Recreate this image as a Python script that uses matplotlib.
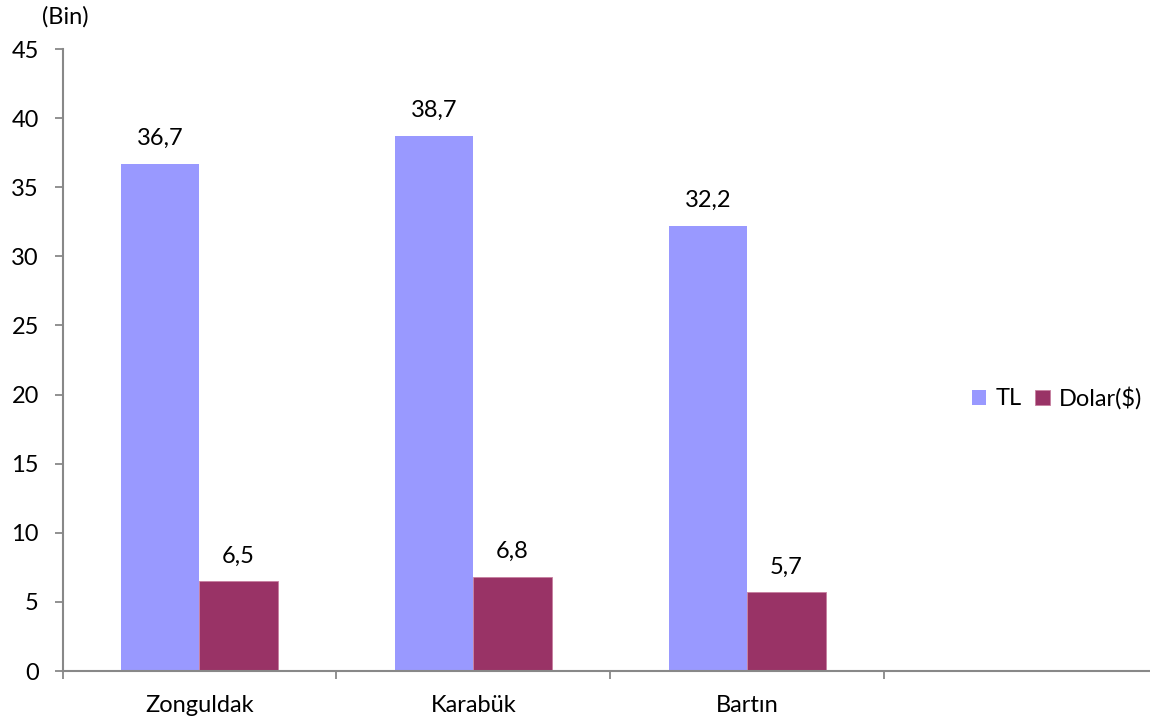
import matplotlib
matplotlib.use("Agg")
import matplotlib.pyplot as plt
import numpy as np

categories = ["Zonguldak", "Karabük", "Bartın", ""]
tl_values = [36.7, 38.7, 32.2]
usd_values = [6.5, 6.8, 5.7]
series_names = ["TL", "Dolar($)"]
yticks = [0, 5, 10, 15, 20, 25, 30, 35, 40, 45]

plt.rcParams['font.family'] = ['Lato', 'DejaVu Sans']
FS = 17

W, H = 1150, 722
fig = plt.figure(figsize=(W / 100, H / 100), dpi=100)
left, right, bottom, top = 62.5, 62.5 + 1096, 671, 49
ax = fig.add_axes([left / W, (H - bottom) / H, (right - left) / W, (bottom - top) / H])

x = np.arange(len(tl_values))
bw = 0.285
c_tl = "#9999FF"
c_usd = "#993366"
b1 = ax.bar(x - bw / 2, tl_values, bw, color=c_tl, label=series_names[0])
b2 = ax.bar(x + bw / 2, usd_values, bw, color=c_usd, edgecolor="#C77FA0", linewidth=0.6,
            label=series_names[1])

for xi, v in zip(x - bw / 2, tl_values):
    ax.annotate(f"{v:.1f}".replace(".", ","), (xi, v), xytext=(0, 13.5), textcoords="offset points",
                ha="center", va="baseline", fontsize=FS)
for xi, v in zip(x + bw / 2, usd_values):
    ax.annotate(f"{v:.1f}".replace(".", ","), (xi, v), xytext=(0, 13.5), textcoords="offset points",
                ha="center", va="baseline", fontsize=FS)

ax.set_xlim(-0.5, len(categories) - 0.5)
ax.set_ylim(0, 45)
ax.set_yticks(yticks)
ax.set_yticklabels([str(t) for t in yticks], fontsize=FS)

ax.set_xticks(np.arange(len(categories)))
ax.set_xticklabels(categories, fontsize=FS)
ax.set_xticks(np.arange(len(categories) + 1) - 0.5, minor=True)
ax.tick_params(axis="x", which="major", length=0, pad=17)
ax.tick_params(axis="x", which="minor", length=6, width=1.3, color="#888888", direction="out")
ax.tick_params(axis="y", length=6, width=1.3, color="#888888", direction="out", pad=11)

for s in ["top", "right"]:
    ax.spines[s].set_visible(False)
for s in ["left", "bottom"]:
    ax.spines[s].set_color("#888888")
    ax.spines[s].set_linewidth(1.5)

fig.text(42 / W, 1 - 24 / H, "(Bin)", fontsize=FS, ha="left", va="baseline")

fig.legend(handles=[b1, b2], labels=series_names, loc="center left",
           bbox_to_anchor=(972 / W, 1 - 398 / H), ncol=2, frameon=False, fontsize=FS,
           handlelength=0.6, handleheight=0.6, handletextpad=0.38, columnspacing=0.6,
           borderaxespad=0, borderpad=0)

fig.savefig("out.png", dpi=100)
